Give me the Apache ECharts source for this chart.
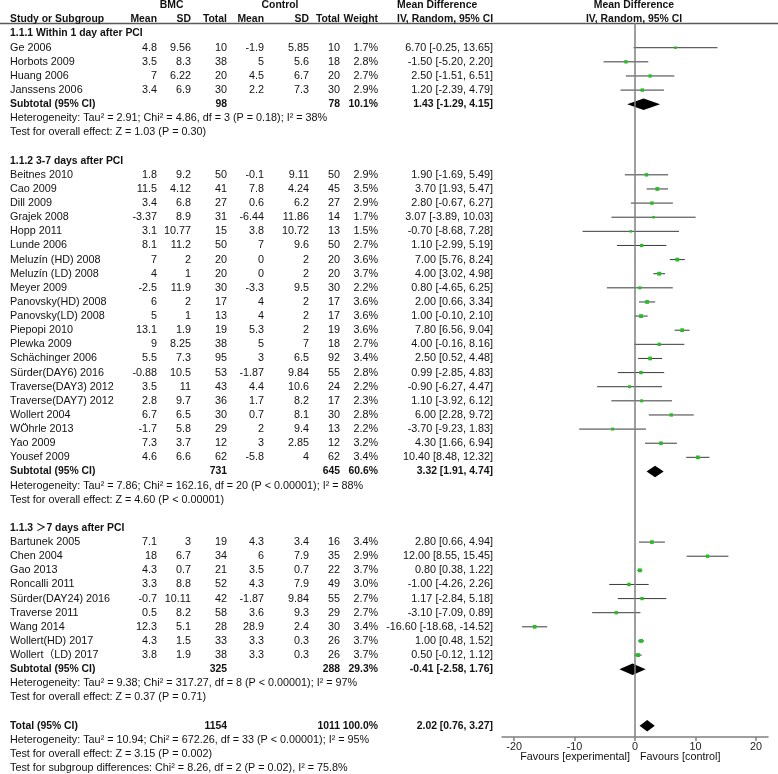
<!DOCTYPE html>
<html><head><meta charset="utf-8">
<script src="https://cdn.jsdelivr.net/npm/echarts@6/dist/echarts.min.js"></script>
<style>html,body{margin:0;padding:0;background:#fff}#c{width:778px;height:774px}</style>
</head><body><div id="c"></div>
<script>
// ---------------- DATA ----------------
const sectionTitles = ["1.1.1 Within 1 day after PCI", "1.1.2 3-7 days after PCI", "1.1.3 \uFF1E7 days after PCI"];
const studyNames = [
  ["Ge 2006","Horbots 2009","Huang 2006","Janssens 2006"],
  ["Beitnes 2010","Cao 2009","Dill 2009","Grajek 2008","Hopp 2011","Lunde 2006","Meluzín (HD) 2008","Meluzín (LD) 2008","Meyer 2009","Panovsky(HD) 2008","Panovsky(LD) 2008","Piepopi 2010","Plewka 2009","Schächinger 2006","Sürder(DAY6) 2016","Traverse(DAY3) 2012","Traverse(DAY7) 2012","Wollert 2004","WÖhrle 2013","Yao 2009","Yousef 2009"],
  ["Bartunek 2005","Chen 2004","Gao 2013","Roncalli 2011","Sürder(DAY24) 2016","Traverse 2011","Wang 2014","Wollert(HD) 2017","Wollert\uFF08LD) 2017"]
];
const bmcMean = [[4.8,3.5,7,3.4],[1.8,11.5,3.4,-3.37,3.1,8.1,7,4,-2.5,6,5,13.1,9,5.5,-0.88,3.5,2.8,6.7,-1.7,7.3,4.6],[7.1,18,4.3,3.3,-0.7,0.5,12.3,4.3,3.8]];
const bmcSD = [[9.56,8.3,6.22,6.9],[9.2,4.12,6.8,8.9,10.77,11.2,2,1,11.9,2,1,1.9,8.25,7.3,10.5,11,9.7,6.5,5.8,3.7,6.6],[3,6.7,0.7,8.8,10.11,8.2,5.1,1.5,1.9]];
const bmcTotal = [[10,38,20,30],[50,41,27,31,15,50,20,20,30,17,13,19,38,95,53,43,36,30,29,12,62],[19,34,21,52,42,58,28,33,38]];
const ctlMean = [[-1.9,5,4.5,2.2],[-0.1,7.8,0.6,-6.44,3.8,7,0,0,-3.3,4,4,5.3,5,3,-1.87,4.4,1.7,0.7,2,3,-5.8],[4.3,6,3.5,4.3,-1.87,3.6,28.9,3.3,3.3]];
const ctlSD = [[5.85,5.6,6.7,7.3],[9.11,4.24,6.2,11.86,10.72,9.6,2,2,9.5,2,2,2,7,6.5,9.84,10.6,8.2,8.1,9.4,2.85,4],[3.4,7.9,0.7,7.9,9.84,9.3,2.4,0.3,0.3]];
const ctlTotal = [[10,18,20,30],[50,45,27,14,13,50,20,20,30,17,17,19,18,92,55,24,17,30,13,12,62],[16,35,22,49,55,29,30,26,26]];
const weights = [[1.7,2.8,2.7,2.9],[2.9,3.5,2.9,1.7,1.5,2.7,3.6,3.7,2.2,3.6,3.6,3.6,2.7,3.4,2.8,2.2,2.3,2.8,2.2,3.2,3.4],[3.4,2.9,3.7,3.0,2.7,2.7,3.4,3.7,3.7]];
const meanDiff = [[6.70,-1.50,2.50,1.20],[1.90,3.70,2.80,3.07,-0.70,1.10,7.00,4.00,0.80,2.00,1.00,7.80,4.00,2.50,0.99,-0.90,1.10,6.00,-3.70,4.30,10.40],[2.80,12.00,0.80,-1.00,1.17,-3.10,-16.60,1.00,0.50]];
const ciLow = [[-0.25,-5.20,-1.51,-2.39],[-1.69,1.93,-0.67,-3.89,-8.68,-2.99,5.76,3.02,-4.65,0.66,-0.10,6.56,-0.16,0.52,-2.85,-6.27,-3.92,2.28,-9.23,1.66,8.48],[0.66,8.55,0.38,-4.26,-2.84,-7.09,-18.68,0.48,-0.12]];
const ciHigh = [[13.65,2.20,6.51,4.79],[5.49,5.47,6.27,10.03,7.28,5.19,8.24,4.98,6.25,3.34,2.10,9.04,8.16,4.48,4.83,4.47,6.12,9.72,1.83,6.94,12.32],[4.94,15.45,1.22,2.26,5.18,0.89,-14.52,1.52,1.12]];

const subBmcTotal = [98, 731, 325];
const subCtlTotal = [78, 645, 288];
const subWeight = [10.1, 60.6, 29.3];
const subMD = [1.43, 3.32, -0.41];
const subLow = [-1.29, 1.91, -2.58];
const subHigh = [4.15, 4.74, 1.76];
const subHet = [
  "Heterogeneity: Tau² = 2.91; Chi² = 4.86, df = 3 (P = 0.18); I² = 38%",
  "Heterogeneity: Tau² = 7.86; Chi² = 162.16, df = 20 (P < 0.00001); I² = 88%",
  "Heterogeneity: Tau² = 9.38; Chi² = 317.27, df = 8 (P < 0.00001); I² = 97%"
];
const subTest = [
  "Test for overall effect: Z = 1.03 (P = 0.30)",
  "Test for overall effect: Z = 4.60 (P < 0.00001)",
  "Test for overall effect: Z = 0.37 (P = 0.71)"
];
const totalBmc = 1154, totalCtl = 1011, totalWeight = 100.0;
const totalMD = 2.02, totalLow = 0.76, totalHigh = 3.27;
const totalLines = [
  "Heterogeneity: Tau² = 10.94; Chi² = 672.26, df = 33 (P < 0.00001); I² = 95%",
  "Test for overall effect: Z = 3.15 (P = 0.002)",
  "Test for subgroup differences: Chi² = 8.26, df = 2 (P = 0.02), I² = 75.8%"
];
const axisTicks = [-20, -10, 0, 10, 20];
const favoursLeft = "Favours [experimental]";
const favoursRight = "Favours [control]";

// ---------------- LAYOUT ----------------
const FF = '"Liberation Sans", Arial, "Noto Sans CJK SC", sans-serif';
const REG = '10.8px ' + FF;
const BOLD = 'bold 10.4px ' + FF;
const TXT = '#111';
const COL = {name:10, bMean:157, bSD:191, bTot:227, cMean:264, cSD:309, cTot:340, w:378, ci:493, hdrL:397};
const fmt2 = v => v.toFixed(2);
const ciText = (m,l,h) => fmt2(m) + ' [' + fmt2(l) + ', ' + fmt2(h) + ']';

const textRows = [];   // {row, cells:[{x,align,text,bold}]}
const studyPts = [];   // [md, lo, hi, row, weight]
const diamonds = [];   // [md, lo, hi, row]

textRows.push({row:-3, cells:[
  {x:171.7, align:'center', text:'BMC', bold:true},
  {x:280, align:'center', text:'Control', bold:true},
  {x:COL.hdrL, align:'left', text:'Mean Difference', bold:true},
  {x:634, align:'center', text:'Mean Difference', bold:true}
]});
textRows.push({row:-2, cells:[
  {x:COL.name, align:'left', text:'Study or Subgroup', bold:true},
  {x:COL.bMean, align:'right', text:'Mean', bold:true},
  {x:COL.bSD, align:'right', text:'SD', bold:true},
  {x:COL.bTot, align:'right', text:'Total', bold:true},
  {x:COL.cMean, align:'right', text:'Mean', bold:true},
  {x:COL.cSD, align:'right', text:'SD', bold:true},
  {x:COL.cTot, align:'right', text:'Total', bold:true},
  {x:COL.w, align:'right', text:'Weight', bold:true},
  {x:COL.hdrL, align:'left', text:'IV, Random, 95% CI', bold:true},
  {x:634, align:'center', text:'IV, Random, 95% CI', bold:true}
]});

let r = -1;
for (let s = 0; s < sectionTitles.length; s++) {
  textRows.push({row:r, cells:[{x:COL.name, align:'left', text:sectionTitles[s], bold:true}]});
  r++;
  for (let i = 0; i < studyNames[s].length; i++) {
    textRows.push({row:r, cells:[
      {x:COL.name, align:'left', text:studyNames[s][i]},
      {x:COL.bMean, align:'right', text:String(bmcMean[s][i])},
      {x:COL.bSD, align:'right', text:String(bmcSD[s][i])},
      {x:COL.bTot, align:'right', text:String(bmcTotal[s][i])},
      {x:COL.cMean, align:'right', text:String(ctlMean[s][i])},
      {x:COL.cSD, align:'right', text:String(ctlSD[s][i])},
      {x:COL.cTot, align:'right', text:String(ctlTotal[s][i])},
      {x:COL.w, align:'right', text:weights[s][i].toFixed(1) + '%'},
      {x:COL.ci, align:'right', text:ciText(meanDiff[s][i], ciLow[s][i], ciHigh[s][i])}
    ]});
    studyPts.push([meanDiff[s][i], ciLow[s][i], ciHigh[s][i], r, weights[s][i]]);
    r++;
  }
  textRows.push({row:r, cells:[
    {x:COL.name, align:'left', text:'Subtotal (95% CI)', bold:true},
    {x:COL.bTot, align:'right', text:String(subBmcTotal[s]), bold:true},
    {x:COL.cTot, align:'right', text:String(subCtlTotal[s]), bold:true},
    {x:COL.w, align:'right', text:subWeight[s].toFixed(1) + '%', bold:true},
    {x:COL.ci, align:'right', text:ciText(subMD[s], subLow[s], subHigh[s]), bold:true}
  ]});
  diamonds.push([subMD[s], subLow[s], subHigh[s], r]);
  r++;
  textRows.push({row:r, cells:[{x:COL.name, align:'left', text:subHet[s]}]}); r++;
  textRows.push({row:r, cells:[{x:COL.name, align:'left', text:subTest[s]}]}); r++;
  r++; // blank
}
textRows.push({row:r, cells:[
  {x:COL.name, align:'left', text:'Total (95% CI)', bold:true},
  {x:COL.bTot, align:'right', text:String(totalBmc), bold:true},
  {x:COL.cTot, align:'right', text:String(totalCtl), bold:true},
  {x:COL.w, align:'right', text:totalWeight.toFixed(1) + '%', bold:true},
  {x:COL.ci, align:'right', text:ciText(totalMD, totalLow, totalHigh), bold:true}
]});
diamonds.push([totalMD, totalLow, totalHigh, r]);
r++;
for (const t of totalLines) { textRows.push({row:r, cells:[{x:COL.name, align:'left', text:t}]}); r++; }

const FAV_ROW = 50.25;
const yAxisCommon = {type:'value', min:-1.75, max:48.8, inverse:true, show:false};

const chart = echarts.init(document.getElementById('c'), null, {renderer:'canvas'});
chart.setOption({
  animation:false,
  backgroundColor:'#fff',
  grid:[
    {left:0, width:778, top:23, height:714},
    {left:502, width:266, top:23, height:714}
  ],
  xAxis:[
    {gridIndex:0, type:'value', min:0, max:778, show:false},
    {gridIndex:1, type:'value', min:-22, max:22,
     axisLine:{show:true, onZero:false, lineStyle:{color:'#808080', width:1.5}},
     axisTick:{show:true, customValues:axisTicks, length:4, lineStyle:{color:'#808080', width:1.5}},
     axisLabel:{show:true, customValues:axisTicks, color:'#222', fontSize:10.8, fontFamily:FF, margin:5},
     splitLine:{show:false}}
  ],
  yAxis:[Object.assign({gridIndex:0}, yAxisCommon), Object.assign({gridIndex:1}, yAxisCommon)],
  graphic:[{type:'line', shape:{x1:0, y1:23.5, x2:778, y2:23.5}, style:{stroke:'#5a5a5a', lineWidth:1.5}, silent:true}],
  series:[
    {
      type:'custom', xAxisIndex:0, yAxisIndex:0, clip:false, silent:true,
      data: textRows.map((t,i) => [0, t.row, i]),
      renderItem: function(params, api) {
        const t = textRows[params.dataIndex];
        const y = api.coord([0, api.value(1)])[1];
        return {type:'group', children: t.cells.map(c => ({
          type:'text',
          style:{text:c.text, x:api.coord([c.x, 0])[0], y:y, align:c.align, verticalAlign:'middle',
                 font: c.bold ? BOLD : REG, fill:TXT}
        }))};
      }
    },
    {
      type:'custom', xAxisIndex:1, yAxisIndex:1, clip:false, silent:true,
      data: studyPts,
      renderItem: function(params, api) {
        const row = api.value(3);
        const p = api.coord([api.value(0), row]);
        const l = api.coord([api.value(1), row]);
        const h = api.coord([api.value(2), row]);
        const s = 2 * Math.sqrt(api.value(4));
        return {type:'group', children:[
          {type:'line', shape:{x1:l[0], y1:p[1], x2:h[0], y2:p[1]}, style:{stroke:'#3a3a3a', lineWidth:1}},
          {type:'rect', shape:{x:p[0]-s/2, y:p[1]-s/2, width:s, height:s}, style:{fill:'#22c022'}}
        ]};
      }
    },
    {
      type:'custom', xAxisIndex:1, yAxisIndex:1, clip:false, silent:true,
      data: diamonds,
      renderItem: function(params, api) {
        const row = api.value(3);
        const p = api.coord([api.value(0), row]);
        const l = api.coord([api.value(1), row]);
        const h = api.coord([api.value(2), row]);
        const hh = 5.8;
        return {type:'polygon', shape:{points:[[l[0],p[1]],[p[0],p[1]-hh],[h[0],p[1]],[p[0],p[1]+hh]]}, style:{fill:'#000'}};
      },
      markLine:{silent:true, symbol:['none','none'], label:{show:false},
        lineStyle:{color:'#7f7f7f', width:1.5, type:'solid'}, data:[{xAxis:0}]}
    },
    {
      type:'custom', xAxisIndex:1, yAxisIndex:1, clip:false, silent:true,
      data: [[0, FAV_ROW]],
      renderItem: function(params, api) {
        const p = api.coord([api.value(0), api.value(1)]);
        return {type:'group', children:[
          {type:'text', style:{text:favoursLeft, x:p[0]-5, y:p[1], align:'right', verticalAlign:'middle', font:REG, fill:TXT}},
          {type:'text', style:{text:favoursRight, x:p[0]+5, y:p[1], align:'left', verticalAlign:'middle', font:REG, fill:TXT}}
        ]};
      }
    }
  ]
});
</script>
</body></html>
